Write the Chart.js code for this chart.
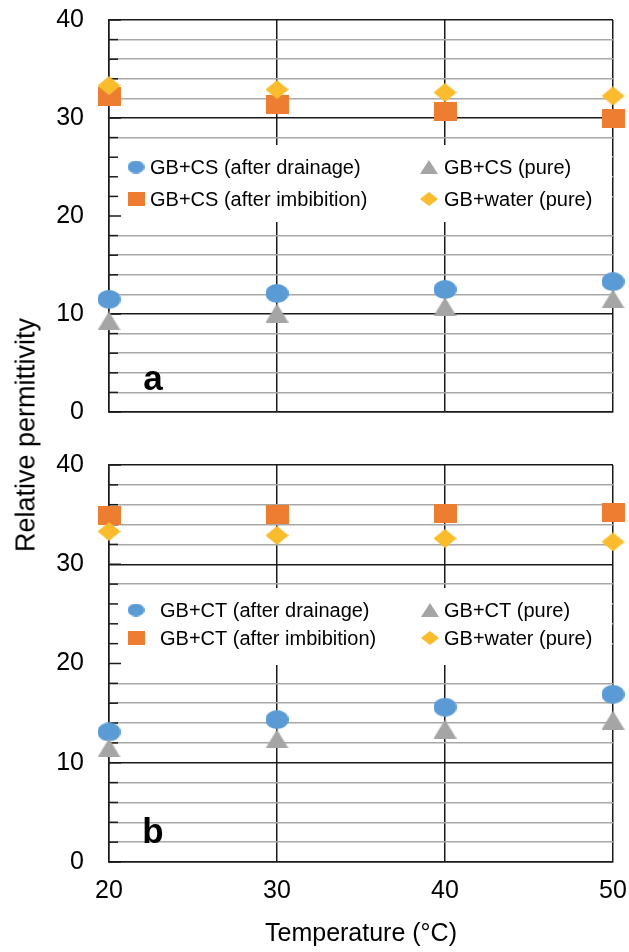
<!DOCTYPE html>
<html><head><meta charset="utf-8">
<script src="https://cdn.jsdelivr.net/npm/chart.js@4"></script>
<style>
html,body{margin:0;padding:0;background:#fff;}
#wrap{position:relative;width:629px;height:952px;overflow:hidden;background:#fff;}
#c1{position:absolute;left:0;top:0;}
#c2{position:absolute;left:0;top:440px;}
#ytitle{position:absolute;left:26px;top:435px;transform:translate(-50%,-50%) rotate(-90deg);font:27px "Liberation Sans",Arial,sans-serif;white-space:nowrap;color:#000;}
</style></head>
<body><div id="wrap">
<canvas id="c1" width="629" height="440"></canvas>
<canvas id="c2" width="629" height="512"></canvas>
<div id="ytitle">Relative permittivity</div>
</div>
<script>
// ---- data ----
const temperatures = [20, 30, 40, 50];
const xTickValues = [20, 30, 40, 50];
const yTickLabels = [0, 10, 20, 30, 40];
// panel a: GB+CS
const csDrainage   = [11.5, 12.1, 12.5, 13.3];
const csImbibition = [32.2, 31.4, 30.7, 30.0];
const csPure       = [9.3, 10.1, 10.75, 11.55];
// panel b: GB+CT
const ctDrainage   = [13.1, 14.35, 15.6, 16.9];
const ctImbibition = [34.9, 35.0, 35.1, 35.2];
const ctPure       = [11.5, 12.4, 13.4, 14.3];
// shared
const waterPure    = [33.3, 32.9, 32.6, 32.25];
const labelsA = ['GB+CS (after drainage)', 'GB+CS (after imbibition)', 'GB+CS (pure)', 'GB+water (pure)'];
const labelsB = ['GB+CT (after drainage)', 'GB+CT (after imbibition)', 'GB+CT (pure)', 'GB+water (pure)'];

const FONT = '"Liberation Sans", Arial, sans-serif';
const COLORS = {blue:'#5B9BD5', orange:'#ED7D31', gray:'#A5A5A5', gold:'#FABC2C'};

function markerCanvas(shape, w, h, color) {
  const c = document.createElement('canvas'); c.width = w; c.height = h;
  const g = c.getContext('2d'); g.fillStyle = color; g.beginPath();
  if (shape === 'circle') g.ellipse(w/2, h/2, w/2, h/2, 0, 0, Math.PI*2);
  else if (shape === 'square') g.rect(0, 0, w, h);
  else if (shape === 'diamond') { g.moveTo(w/2,0); g.lineTo(w,h/2); g.lineTo(w/2,h); g.lineTo(0,h/2); g.closePath(); }
  else if (shape === 'triangle') { g.moveTo(w/2,0); g.lineTo(w,h); g.lineTo(0,h); g.closePath(); }
  g.fill(); return c;
}
const styles = [
  {shape:'circle',   color:COLORS.blue,   big:[23,19], small:[17,13], order:3},
  {shape:'square',   color:COLORS.orange, big:[23,19], small:[17,14], order:2},
  {shape:'triangle', color:COLORS.gray,   big:[23,19], small:[18,14], order:1},
  {shape:'diamond',  color:COLORS.gold,   big:[23,19], small:[18,14], order:0}
];
styles.forEach(s => {
  s.img = markerCanvas(s.shape, s.big[0], s.big[1], s.color);
  s.legendImg = markerCanvas(s.shape, s.small[0], s.small[1], s.color);
});

function makeDatasets(series, labels) {
  return series.map((arr, i) => ({
    label: labels[i],
    data: temperatures.map((t, j) => ({x: t, y: arr[j]})),
    pointStyle: styles[i].img,
    backgroundColor: styles[i].color,
    borderColor: styles[i].color,
    showLine: false,
    clip: false,
    order: styles[i].order
  }));
}

const panelPlugin = {
  id: 'panelDeco',
  beforeDatasetsDraw(chart, args, o) {
    const {ctx, chartArea: a, scales: {y}} = chart;
    ctx.save();
    // legend box
    ctx.fillStyle = '#fff';
    ctx.fillRect(a.left + 1, a.top + o.boxTop, a.width - 2, o.boxBottom - o.boxTop);
    // inner ticks on left axis
    ctx.strokeStyle = '#1a1a1a'; ctx.lineWidth = 1.5;
    for (let v = 0; v <= 40; v += 2) {
      const py = y.getPixelForValue(v);
      const len = (v % 10 === 0) ? 12 : 9;
      ctx.beginPath(); ctx.moveTo(a.left, py); ctx.lineTo(a.left + len, py); ctx.stroke();
    }
    // legend entries
    ctx.font = '20px ' + FONT; ctx.fillStyle = '#000'; ctx.textBaseline = 'middle'; ctx.textAlign = 'left';
    chart.data.datasets.forEach((ds, i) => {
      const col = i < 2 ? 0 : 1, row = i % 2;
      const my = a.top + o.rows[row];
      const mx = a.left + o.markerX[col];
      const img = styles[i].legendImg;
      ctx.drawImage(img, mx - img.width/2, my - img.height/2);
      ctx.fillStyle = '#000';
      ctx.fillText(ds.label, a.left + o.textX[col], my + 1);
    });
    // panel letter
    ctx.font = 'bold 35px ' + FONT; ctx.textBaseline = 'alphabetic'; ctx.textAlign = 'center';
    ctx.fillText(o.letter, a.left + 44, a.bottom - o.letterOffset);
    ctx.restore();
  }
};

function makeOptions(isBottom, deco) {
  return {
    responsive: false,
    animation: false,
    layout: {padding: {left: 0, right: 16, top: isBottom ? 25 : 20, bottom: 0}},
    plugins: {legend: {display: false}, tooltip: {enabled: false}, panelDeco: deco},
    scales: {
      x: {
        type: 'linear', min: 20, max: 50,
        afterBuildTicks: s => { s.ticks = xTickValues.map(v => ({value: v})); },
        ticks: {display: isBottom, font: {family: FONT, size: 25}, color: '#000', padding: 0, maxRotation: 0},
        grid: {color: '#1a1a1a', lineWidth: 1.5, drawTicks: true, tickLength: 14, tickColor: 'rgba(0,0,0,0)'},
        border: {display: true, color: '#1a1a1a', width: 1.5},
        title: {display: isBottom, text: 'Temperature (°C)', font: {family: FONT, size: 25}, color: '#000', padding: {top: 4, bottom: 3}},
        afterFit: s => { s.height = isBottom ? 90 : 28; }
      },
      y: {
        min: 0, max: 40,
        ticks: {stepSize: 2, autoSkip: false, font: {family: FONT, size: 25}, color: '#000', padding: 0,
          callback: v => yTickLabels.includes(v) ? String(v) : ''},
        grid: {color: c => (c.tick && c.tick.value % 10 === 0) ? '#1a1a1a' : '#a8a8a8', lineWidth: 1.5,
          drawTicks: true, tickLength: 25, tickColor: 'rgba(0,0,0,0)'},
        border: {display: true, color: '#1a1a1a', width: 1.5},
        afterFit: s => { s.width = 109; }
      }
    }
  };
}

new Chart(document.getElementById('c1'), {
  type: 'scatter',
  data: {datasets: makeDatasets([csDrainage, csImbibition, csPure, waterPure], labelsA)},
  options: makeOptions(false, {boxTop: 125, boxBottom: 202, rows: [147, 179], markerX: [27, 320], textX: [41, 335], letter: 'a', letterOffset: 22}),
  plugins: [panelPlugin]
});
new Chart(document.getElementById('c2'), {
  type: 'scatter',
  data: {datasets: makeDatasets([ctDrainage, ctImbibition, ctPure, waterPure], labelsB)},
  options: makeOptions(true, {boxTop: 123, boxBottom: 200, rows: [145, 173], markerX: [27, 321], textX: [51, 335], letter: 'b', letterOffset: 19}),
  plugins: [panelPlugin]
});
</script>
</body></html>
